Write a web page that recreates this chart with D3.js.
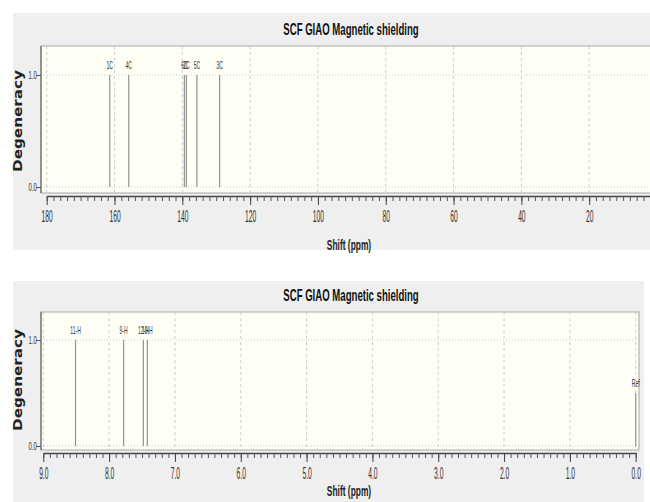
<!DOCTYPE html>
<html>
<head>
<meta charset="utf-8">
<script src="https://cdn.jsdelivr.net/npm/d3@7"></script>
<style>
  body { margin: 0; background: #fff; }
  svg { display: block; }
</style>
</head>
<body>
<svg width="650" height="502"></svg>
<script>
// 13C spectrum
const carbonLabels = ["1C", "4C", "6C", "2C", "5C", "3C"];
const carbonShifts = [161.4, 155.8, 139.4, 138.8, 135.7, 129.0];
const carbonDegeneracy = [1, 1, 1, 1, 1, 1];
const carbonTicks = [180, 160, 140, 120, 100, 80, 60, 40, 20];
const carbonMinor = d3.range(0, 181, 2);

// 1H spectrum
const hydrogenLabels = ["11-H", "9-H", "12-H", "10-H", "Ref"];
const hydrogenShifts = [8.51, 7.78, 7.48, 7.42, 0.0];
const hydrogenDegeneracy = [1, 1, 1, 1, 0.5];
const hydrogenTicks = [9, 8, 7, 6, 5, 4, 3, 2, 1, 0];
const hydrogenMinor = d3.range(0, 91).map(d => d / 10);

const degeneracyTicks = [0, 1];
const titleText = "SCF GIAO Magnetic shielding";

const svg = d3.select("svg");

function drawPanel(p) {
    const g = svg.append("g");

    g.append("rect")
        .attr("x", p.box[0]).attr("y", p.box[1])
        .attr("width", p.box[2]).attr("height", p.box[3])
        .attr("fill", "#efeff0");

    // title
    g.append("g")
        .attr("transform", `translate(351,${p.titleY})`)
        .append("text")
        .attr("text-anchor", "middle")
        .attr("font-family", "Liberation Sans, Arial, sans-serif")
        .attr("font-weight", "bold")
        .attr("font-size", 16)
        .attr("transform", "scale(0.6,1)")
        .attr("fill", "#111")
        .text(titleText);

    const x = d3.scaleLinear().domain(p.domain).range(p.xRange);
    const y = d3.scaleLinear().domain([0, 1]).range(p.yRange);

    // plot area
    g.append("rect")
        .attr("x", p.plot[0]).attr("y", p.plot[1])
        .attr("width", p.plot[2] - p.plot[0]).attr("height", p.plot[3] - p.plot[1])
        .attr("fill", "#fffff6")
        .attr("stroke", "#a8a8a8")
        .attr("stroke-width", 1);

    // grid
    g.append("g")
        .attr("stroke", "#cdcdcd")
        .attr("stroke-dasharray", "3,3")
        .selectAll("line")
        .data(p.ticks)
        .join("line")
        .attr("x1", d => x(d)).attr("x2", d => x(d))
        .attr("y1", p.plot[1]).attr("y2", p.plot[3]);
    g.append("g")
        .attr("stroke", "#cdcdcd")
        .attr("stroke-dasharray", "1,2")
        .selectAll("line")
        .data(degeneracyTicks)
        .join("line")
        .attr("x1", p.plot[0]).attr("x2", p.plot[2])
        .attr("y1", d => y(d)).attr("y2", d => y(d));

    // peaks
    const peaks = p.shifts.map((s, i) => ({shift: s, deg: p.deg[i], label: p.labels[i]}));
    g.append("g")
        .attr("stroke", "#939393")
        .attr("stroke-width", 1.2)
        .selectAll("line")
        .data(peaks)
        .join("line")
        .attr("x1", d => x(d.shift)).attr("x2", d => x(d.shift))
        .attr("y1", d => y(d.deg)).attr("y2", y(0));

    g.append("g")
        .selectAll("g")
        .data(peaks)
        .join("g")
        .attr("transform", d => `translate(${x(d.shift)},${y(d.deg) - 6})`)
        .append("text")
        .attr("text-anchor", "middle")
        .attr("font-family", "Liberation Sans, Arial, sans-serif")
        .attr("font-size", 10)
        .attr("fill", "#333")
        .attr("transform", "scale(0.5,1)")
        .text(d => d.label);

    // x axis
    const axisY = p.plot[3] + 3;
    g.append("g")
        .attr("transform", `translate(0,${axisY})`)
        .call(d3.axisBottom(x).tickValues(p.minor).tickSize(5).tickSizeOuter(0).tickFormat(""))
        .call(a => a.selectAll("line").attr("stroke", "#555"))
        .call(a => a.select(".domain").attr("stroke", "#444").attr("stroke-width", 1.3));
    g.append("g")
        .attr("transform", `translate(0,${axisY})`)
        .call(d3.axisBottom(x).tickValues(p.ticks).tickSize(9).tickPadding(6).tickFormat(d3.format(p.fmt)))
        .call(a => a.select(".domain").remove())
        .call(a => a.selectAll("line").attr("stroke", "#444"))
        .call(a => a.selectAll("text")
            .attr("font-family", "Liberation Sans, Arial, sans-serif")
            .attr("font-size", 16)
            .attr("fill", "#333")
            .attr("transform", "scale(0.42,1)"));

    g.append("g")
        .attr("transform", `translate(349,${p.xLabelY})`)
        .append("text")
        .attr("text-anchor", "middle")
        .attr("font-family", "Liberation Sans, Arial, sans-serif")
        .attr("font-weight", "bold")
        .attr("font-size", 14)
        .attr("fill", "#222")
        .attr("transform", "scale(0.6,1)")
        .text("Shift (ppm)");

    // y axis
    g.append("line")
        .attr("x1", p.plot[0]).attr("x2", p.plot[0])
        .attr("y1", p.plot[1]).attr("y2", p.plot[3])
        .attr("stroke", "#555");
    const ya = g.append("g")
        .attr("transform", `translate(${p.plot[0]},0)`)
        .call(d3.axisLeft(y).tickValues(degeneracyTicks).tickSize(5).tickPadding(2).tickFormat(d3.format(".1f")));
    ya.select(".domain").remove();
    ya.selectAll("line").attr("stroke", "#555");
    ya.selectAll("text")
        .attr("font-family", "Liberation Sans, Arial, sans-serif")
        .attr("font-size", 10)
        .attr("fill", "#333")
        .attr("transform", "scale(0.6,1)");

    g.append("text")
        .attr("transform", `translate(22,${p.yLabelY}) rotate(-90)`)
        .attr("text-anchor", "middle")
        .attr("font-family", "DejaVu Sans, Verdana, sans-serif")
        .attr("font-weight", "bold")
        .attr("font-size", 12.5)
        .attr("fill", "#222")
        .attr("textLength", 102)
        .attr("lengthAdjust", "spacingAndGlyphs")
        .text("Degeneracy");
}

drawPanel({
    box: [13, 13, 640, 237],
    titleY: 35,
    plot: [41, 46, 652, 193],
    domain: [180, 0],
    xRange: [46.7, 657],
    yRange: [187, 75],
    ticks: carbonTicks,
    minor: carbonMinor,
    fmt: "d",
    labels: carbonLabels,
    shifts: carbonShifts,
    deg: carbonDegeneracy,
    xLabelY: 250,
    yLabelY: 121
});

drawPanel({
    box: [13, 281, 631, 221],
    titleY: 301,
    plot: [41, 312, 639, 450],
    domain: [9, 0],
    xRange: [43.3, 635.7],
    yRange: [446, 340],
    ticks: hydrogenTicks,
    minor: hydrogenMinor,
    fmt: ".1f",
    labels: hydrogenLabels,
    shifts: hydrogenShifts,
    deg: hydrogenDegeneracy,
    xLabelY: 496,
    yLabelY: 380
});
</script>
</body>
</html>
